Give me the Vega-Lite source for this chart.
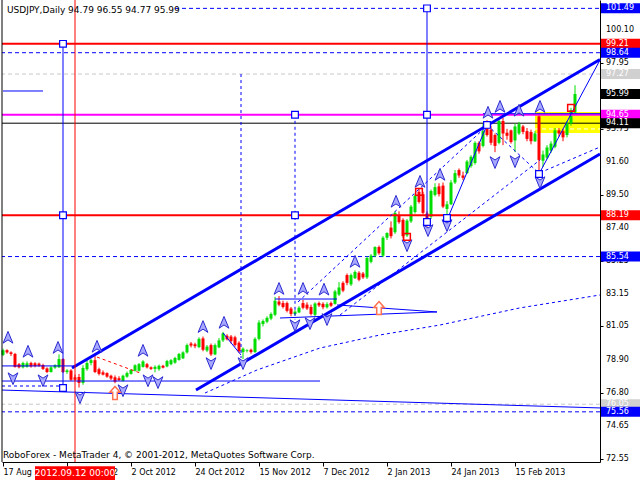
{
"$schema": "https://vega.github.io/schema/vega-lite/v6.json",
"width": 598, "height": 462,
"autosize": {"type": "none"},
"padding": {"left": 2, "top": 0, "right": 40, "bottom": 18},
"background": "white",
"config": {"view": {"stroke": null}, "font": "DejaVu Sans", "axis": {"labelOverlap": false, "labelBound": false, "labelFlush": false, "grid": false}},
"datasets": {
"candles": [
{"i":0,"o":79.22,"h":79.62,"l":79.15,"c":79.52},{"i":1,"o":79.52,"h":79.58,"l":79.30,"c":79.38},{"i":2,"o":79.38,"h":79.45,"l":79.15,"c":79.28},{"i":3,"o":79.28,"h":79.35,"l":78.40,"c":78.45},{"i":4,"o":78.62,"h":78.70,"l":78.35,"c":78.42},{"i":5,"o":78.42,"h":78.78,"l":78.35,"c":78.70},{"i":6,"o":78.45,"h":78.80,"l":78.40,"c":78.68},{"i":7,"o":78.70,"h":78.78,"l":78.40,"c":78.48},{"i":8,"o":78.68,"h":78.75,"l":78.42,"c":78.50},{"i":9,"o":78.66,"h":78.72,"l":78.45,"c":78.52},
{"i":10,"o":78.56,"h":78.65,"l":78.25,"c":78.32},{"i":11,"o":78.35,"h":78.42,"l":78.05,"c":78.12},{"i":12,"o":78.12,"h":78.50,"l":78.08,"c":78.42},{"i":13,"o":78.40,"h":78.62,"l":78.32,"c":78.55},{"i":14,"o":78.42,"h":79.25,"l":78.38,"c":78.95},{"i":15,"o":78.95,"h":79.00,"l":78.05,"c":78.12},{"i":16,"o":78.12,"h":78.30,"l":78.00,"c":78.22},{"i":17,"o":78.22,"h":78.30,"l":77.55,"c":77.62},{"i":18,"o":77.78,"h":77.95,"l":77.55,"c":77.62},{"i":19,"o":77.80,"h":78.00,"l":77.12,"c":77.42},
{"i":20,"o":77.42,"h":78.55,"l":77.30,"c":78.38},{"i":21,"o":78.30,"h":78.95,"l":78.20,"c":78.70},{"i":22,"o":78.70,"h":78.98,"l":78.55,"c":78.88},{"i":23,"o":78.88,"h":79.22,"l":78.05,"c":78.12},{"i":24,"o":78.30,"h":78.40,"l":77.90,"c":78.00},{"i":25,"o":78.10,"h":78.22,"l":77.90,"c":77.95},{"i":26,"o":78.05,"h":78.10,"l":77.75,"c":77.82},{"i":27,"o":77.88,"h":77.95,"l":77.60,"c":77.70},{"i":28,"o":77.78,"h":77.90,"l":77.40,"c":77.50},{"i":29,"o":77.72,"h":77.85,"l":77.55,"c":77.60},
{"i":30,"o":77.55,"h":77.95,"l":77.50,"c":77.88},{"i":31,"o":77.82,"h":78.15,"l":77.75,"c":78.05},{"i":32,"o":78.00,"h":78.30,"l":77.95,"c":78.25},{"i":33,"o":78.20,"h":78.62,"l":78.15,"c":78.55},{"i":34,"o":78.20,"h":78.70,"l":78.15,"c":78.62},{"i":35,"o":78.45,"h":78.88,"l":78.40,"c":78.80},{"i":36,"o":78.62,"h":78.70,"l":78.35,"c":78.42},{"i":37,"o":78.42,"h":78.48,"l":78.25,"c":78.32},{"i":38,"o":78.32,"h":78.55,"l":78.10,"c":78.45},{"i":39,"o":78.30,"h":78.60,"l":78.20,"c":78.52},
{"i":40,"o":78.52,"h":78.58,"l":78.35,"c":78.40},{"i":41,"o":78.48,"h":78.90,"l":78.42,"c":78.82},{"i":42,"o":78.62,"h":78.95,"l":78.55,"c":78.88},{"i":43,"o":78.72,"h":79.10,"l":78.65,"c":79.02},{"i":44,"o":78.90,"h":79.35,"l":78.85,"c":79.28},{"i":45,"o":79.00,"h":79.45,"l":78.95,"c":79.38},{"i":46,"o":79.38,"h":79.95,"l":79.30,"c":79.85},{"i":47,"o":79.95,"h":80.05,"l":79.70,"c":79.82},{"i":48,"o":79.90,"h":80.00,"l":79.65,"c":79.78},{"i":49,"o":79.72,"h":80.35,"l":79.65,"c":80.25},
{"i":50,"o":80.28,"h":80.40,"l":79.45,"c":79.55},{"i":51,"o":79.50,"h":79.85,"l":79.40,"c":79.75},{"i":52,"o":79.85,"h":79.95,"l":79.15,"c":79.25},{"i":53,"o":79.25,"h":79.95,"l":79.20,"c":79.85},{"i":54,"o":79.70,"h":80.30,"l":79.65,"c":80.15},{"i":55,"o":80.15,"h":80.70,"l":80.05,"c":80.60},{"i":56,"o":80.45,"h":80.55,"l":80.15,"c":80.22},{"i":57,"o":80.40,"h":80.50,"l":79.95,"c":80.10},{"i":58,"o":80.35,"h":80.45,"l":79.75,"c":79.85},{"i":59,"o":80.00,"h":80.10,"l":79.35,"c":79.45},
{"i":60,"o":79.40,"h":79.70,"l":78.95,"c":79.62},{"i":61,"o":79.48,"h":79.58,"l":79.38,"c":79.52},{"i":62,"o":79.55,"h":79.62,"l":79.30,"c":79.40},{"i":63,"o":79.40,"h":80.35,"l":79.35,"c":80.25},{"i":64,"o":80.25,"h":81.45,"l":80.15,"c":81.30},{"i":65,"o":81.20,"h":81.50,"l":81.05,"c":81.40},{"i":66,"o":81.35,"h":81.70,"l":81.25,"c":81.60},{"i":67,"o":81.55,"h":81.95,"l":81.45,"c":81.85},{"i":68,"o":81.80,"h":82.95,"l":81.70,"c":82.70},{"i":69,"o":82.65,"h":83.00,"l":82.35,"c":82.45},
{"i":70,"o":82.55,"h":82.70,"l":82.20,"c":82.30},{"i":71,"o":82.55,"h":82.65,"l":81.95,"c":82.05},{"i":72,"o":82.20,"h":82.30,"l":81.70,"c":81.85},{"i":73,"o":81.85,"h":82.10,"l":81.75,"c":82.00},{"i":74,"o":81.95,"h":82.35,"l":81.90,"c":82.25},{"i":75,"o":82.55,"h":82.75,"l":82.15,"c":82.25},{"i":76,"o":82.45,"h":82.60,"l":82.10,"c":82.20},{"i":77,"o":82.30,"h":82.45,"l":81.75,"c":81.85},{"i":78,"o":81.80,"h":82.60,"l":81.70,"c":82.52},{"i":79,"o":82.55,"h":82.65,"l":82.30,"c":82.40},
{"i":80,"o":82.50,"h":82.60,"l":82.15,"c":82.28},{"i":81,"o":82.28,"h":82.60,"l":82.20,"c":82.48},{"i":82,"o":82.55,"h":82.65,"l":82.30,"c":82.38},{"i":83,"o":82.50,"h":83.40,"l":82.45,"c":83.30},{"i":84,"o":83.10,"h":83.90,"l":83.00,"c":83.55},{"i":85,"o":83.85,"h":83.95,"l":83.25,"c":83.35},{"i":86,"o":84.35,"h":84.45,"l":83.70,"c":83.85},{"i":87,"o":83.75,"h":84.45,"l":83.65,"c":84.35},{"i":88,"o":84.15,"h":84.65,"l":84.10,"c":84.55},{"i":89,"o":84.50,"h":84.60,"l":83.95,"c":84.05},
{"i":90,"o":84.45,"h":84.55,"l":84.10,"c":84.20},{"i":91,"o":84.20,"h":85.55,"l":84.10,"c":85.45},{"i":92,"o":85.20,"h":85.70,"l":85.10,"c":85.60},{"i":93,"o":85.60,"h":86.20,"l":85.50,"c":86.15},{"i":94,"o":86.15,"h":86.25,"l":85.65,"c":85.75},{"i":95,"o":85.60,"h":86.85,"l":85.50,"c":86.75},{"i":96,"o":86.75,"h":87.10,"l":86.60,"c":87.05},{"i":97,"o":87.40,"h":87.80,"l":86.70,"c":86.85},{"i":98,"o":87.10,"h":88.45,"l":87.00,"c":88.35},{"i":99,"o":88.20,"h":88.45,"l":87.65,"c":87.75},
{"i":100,"o":87.90,"h":88.00,"l":86.70,"c":86.85},{"i":101,"o":86.90,"h":87.95,"l":86.80,"c":87.85},{"i":102,"o":87.80,"h":88.85,"l":87.70,"c":88.75},{"i":103,"o":88.40,"h":89.55,"l":88.30,"c":89.45},{"i":104,"o":89.70,"h":89.90,"l":88.95,"c":89.05},{"i":105,"o":89.55,"h":89.70,"l":88.25,"c":88.35},{"i":106,"o":88.30,"h":88.45,"l":87.45,"c":87.90},{"i":107,"o":88.10,"h":89.85,"l":87.95,"c":89.75},{"i":108,"o":89.50,"h":90.25,"l":89.40,"c":90.00},{"i":109,"o":90.05,"h":90.25,"l":89.40,"c":89.55},
{"i":110,"o":90.10,"h":90.30,"l":88.65,"c":88.75},{"i":111,"o":88.60,"h":89.10,"l":88.05,"c":88.90},{"i":112,"o":88.90,"h":90.45,"l":88.85,"c":90.30},{"i":113,"o":90.30,"h":91.10,"l":90.20,"c":90.90},{"i":114,"o":91.10,"h":91.20,"l":90.60,"c":90.75},{"i":115,"o":90.75,"h":91.00,"l":90.45,"c":90.60},{"i":116,"o":90.90,"h":91.75,"l":90.85,"c":91.65},{"i":117,"o":91.35,"h":92.05,"l":91.25,"c":91.95},{"i":118,"o":91.55,"h":92.95,"l":91.45,"c":92.85},{"i":119,"o":92.85,"h":92.95,"l":92.15,"c":92.30},
{"i":120,"o":92.65,"h":94.05,"l":92.55,"c":93.60},{"i":121,"o":94.15,"h":94.30,"l":93.25,"c":93.35},{"i":122,"o":93.70,"h":93.95,"l":92.70,"c":92.85},{"i":123,"o":93.35,"h":93.45,"l":92.25,"c":92.65},{"i":124,"o":92.85,"h":94.45,"l":92.75,"c":94.25},{"i":125,"o":94.25,"h":94.45,"l":92.70,"c":93.45},{"i":126,"o":93.50,"h":93.75,"l":93.05,"c":93.30},{"i":127,"o":93.65,"h":93.70,"l":92.80,"c":92.90},{"i":128,"o":93.00,"h":94.10,"l":92.25,"c":93.90},{"i":129,"o":93.45,"h":94.20,"l":93.35,"c":94.05},
{"i":130,"o":93.90,"h":94.00,"l":93.40,"c":93.55},{"i":131,"o":93.60,"h":93.80,"l":92.95,"c":93.10},{"i":132,"o":93.55,"h":93.70,"l":92.75,"c":92.95},{"i":133,"o":92.95,"h":93.60,"l":92.90,"c":93.45},{"i":134,"o":94.55,"h":94.77,"l":90.85,"c":91.75},{"i":135,"o":91.70,"h":92.35,"l":91.30,"c":92.10},{"i":136,"o":91.90,"h":92.70,"l":91.80,"c":92.55},{"i":137,"o":92.35,"h":92.95,"l":92.20,"c":92.80},{"i":138,"o":92.60,"h":93.80,"l":92.50,"c":93.65},{"i":139,"o":93.65,"h":93.80,"l":93.25,"c":93.45},
{"i":140,"o":93.60,"h":93.75,"l":92.95,"c":93.20},{"i":141,"o":93.35,"h":94.25,"l":93.20,"c":94.10},{"i":142,"o":94.10,"h":95.10,"l":93.95,"c":94.95},{"i":143,"o":94.79,"h":96.55,"l":94.77,"c":95.99}
],
"levels": [
{"p":101.49,"kind":"target"},{"p":99.21,"kind":"key"},{"p":98.64,"kind":"target"},{"p":97.27,"kind":"prev"},{"p":95.99,"kind":"bid"},{"p":94.65,"kind":"entry"},{"p":94.11,"kind":"price"},{"p":88.19,"kind":"key"},{"p":85.54,"kind":"target"},{"p":76.05,"kind":"prev"},{"p":75.56,"kind":"target"}
],
"yticks": [{"v":72.55,"t":"72.55"},{"v":74.65,"t":"74.65"},{"v":76.8,"t":"76.80"},{"v":78.9,"t":"78.90"},{"v":81.05,"t":"81.05"},{"v":83.15,"t":"83.15"},{"v":85.25,"t":"85.25"},{"v":87.4,"t":"87.40"},{"v":89.5,"t":"89.50"},{"v":91.6,"t":"91.60"},{"v":93.75,"t":"93.75"},{"v":95.85,"t":"95.85"},{"v":97.95,"t":"97.95"},{"v":100.1,"t":"100.10"}],
"zone": [{"a":133,"b":149.25,"lo":93.48,"hi":94.83}],
"zonemid": [{"i":133,"p":93.74},{"i":149.25,"p":93.74}],
"thin": [
{"id":"t0","i":0,"p":96.18},{"id":"t0","i":10,"p":96.18},
{"id":"z1","i":111,"p":87.89},{"id":"z1","i":121,"p":94.0},
{"id":"z2","i":134,"p":90.85},{"id":"z2","i":149.25,"p":98.17},
{"id":"h1","i":120,"p":94.72},{"id":"h1","i":149.25,"p":94.72},
{"id":"zz","i":55,"p":80.63},{"id":"zz","i":59.5,"p":79.21},
{"id":"tr1","i":68,"p":82.81},{"id":"tr1","i":83.5,"p":82.81},
{"id":"tr2","i":83.5,"p":82.43},{"id":"tr2","i":108.5,"p":81.98},
{"id":"tr3","i":69.25,"p":81.59},{"id":"tr3","i":108.5,"p":81.98},
{"id":"b1","i":-0.25,"p":78.51},{"id":"b1","i":18.5,"p":78.51},
{"id":"b2","i":-0.25,"p":77.54},{"id":"b2","i":79.25,"p":77.54},
{"id":"b3","i":-0.25,"p":76.96},{"id":"b3","i":149.25,"p":75.81}
],
"dashed": [
{"id":"d1","i":50.5,"p":76.77},{"id":"d1","i":63.5,"p":78.25},{"id":"d1","i":79.25,"p":79.66},{"id":"d1","i":94.25,"p":80.5},{"id":"d1","i":109.25,"p":81.14},{"id":"d1","i":129.25,"p":82.24},{"id":"d1","i":149.25,"p":83.07},
{"id":"d2","i":73.75,"p":82.62},{"id":"d2","i":121.75,"p":94.12},
{"id":"d3","i":84.25,"p":81.78},{"id":"d3","i":134.25,"p":91.75},
{"id":"d4","i":121,"p":94.0},{"id":"d4","i":134,"p":90.9},{"id":"d4","i":149.25,"p":92.58},
{"id":"d5","i":-0.25,"p":77.22},{"id":"d5","i":15,"p":77.22}
],
"reddash": [{"i":23.5,"p":79.08},{"i":34.25,"p":78.06}],
"channel": [
{"id":"up","i":17.25,"p":78.38},{"id":"up","i":149.25,"p":98.2},
{"id":"lo","i":48.25,"p":76.96},{"id":"lo","i":149.25,"p":92.13}
],
"vsolid": [{"i":15,"p1":99.21,"p2":77.09},{"i":106,"p1":101.49,"p2":87.76}],
"vdash": [{"i":59.5,"p1":97.27,"p2":79.02},{"i":73,"p1":94.65,"p2":81.5}],
"bsq": [{"i":15,"p":99.21},{"i":15,"p":88.19},{"i":15,"p":77.09},{"i":106,"p":101.49},{"i":106,"p":94.65},{"i":106,"p":87.76},{"i":73,"p":94.65},{"i":73,"p":88.19},{"i":121,"p":94.0},{"i":134,"p":90.85},{"i":111,"p":88.02}],
"rsq": [{"i":101,"p":86.8},{"i":104,"p":89.7},{"i":142,"p":95.1}],
"fup": [{"i":1.25,"p":80.31},{"i":6.25,"p":79.41},{"i":13.75,"p":79.66},{"i":23.5,"p":79.73},{"i":35,"p":79.47},{"i":50,"p":81.0},{"i":55.25,"p":81.27},{"i":69,"p":83.45},{"i":75,"p":83.45},{"i":80.25,"p":83.4},{"i":88,"p":85.19},{"i":98.25,"p":89.05},{"i":104.25,"p":90.33},{"i":109.25,"p":90.78},{"i":121.25,"p":94.77},{"i":124.25,"p":95.15},{"i":129,"p":94.9},{"i":134.25,"p":95.15}],
"fdn": [{"i":2.5,"p":77.73},{"i":10,"p":77.6},{"i":19.25,"p":76.51},{"i":30,"p":76.96},{"i":36.25,"p":77.6},{"i":38.75,"p":77.48},{"i":52,"p":78.7},{"i":60,"p":78.7},{"i":73,"p":81.14},{"i":76.75,"p":81.27},{"i":81,"p":81.53},{"i":101,"p":86.28},{"i":106.25,"p":87.25},{"i":111,"p":87.57},{"i":123,"p":91.62},{"i":128,"p":91.68},{"i":134.25,"p":90.33}],
"oar": [{"i":28,"p":76.77},{"i":94,"p":82.23}]
},
"layer": [
{"data": {"name": "zone"}, "mark": {"type": "rect", "color": "#ffff00"},
 "encoding": {
  "x": {"field": "a", "type": "quantitative", "title": null, "scale": {"domain": [-0.25, 149.25], "nice": false, "zero": false},
   "axis": {"orient": "bottom", "values": [0,16,32,48,64,80,96,112,128], "labelExpr": "['17 Aug 2012','10 Sep 2012','2 Oct 2012','24 Oct 2012','15 Nov 2012','7 Dec 2012','2 Jan 2013','24 Jan 2013','15 Feb 2013'][round(datum.value/16)]", "labelAlign": "left", "labelBaseline": "top", "labelPadding": 2, "labelFont": "DejaVu Sans", "labelFontSize": 8, "labelColor": "#000", "tickSize": 4, "tickColor": "#000", "domainColor": "#000", "grid": false, "labelOverlap": false, "labelBound": false, "labelFlush": false}},
  "x2": {"field": "b"},
  "y": {"field": "lo", "type": "quantitative", "title": null, "scale": {"domain": [72.336, 102.028], "nice": false, "zero": false},
   "axis": {"orient": "right", "values": [72.55,74.65,76.80,78.90,81.05,83.15,85.25,87.40,89.50,91.60,93.75,95.85,97.95,100.10], "labels": false, "tickSize": 3, "tickColor": "#000", "domainColor": "#000", "grid": false}},
  "y2": {"field": "hi"}}},
{"data": {"name": "zonemid"}, "mark": {"type": "line", "color": "#ffffff", "strokeWidth": 1, "strokeDash": [4, 3]},
 "encoding": {"x": {"field": "i", "type": "quantitative", "title": null}, "y": {"field": "p", "type": "quantitative", "title": null}}},
{"data": {"name": "levels"}, "transform": [{"filter": "datum.kind == 'prev'"}], "mark": {"type": "rule", "color": "#c8c8c8", "strokeDash": [4, 3]}, "encoding": {"y": {"field": "p", "type": "quantitative", "title": null}}},
{"data": {"name": "levels"}, "transform": [{"filter": "datum.kind == 'target' && datum.p < 100"}], "mark": {"type": "rule", "color": "#0000ff", "strokeDash": [4, 3]}, "encoding": {"y": {"field": "p", "type": "quantitative", "title": null}}},
{"data": {"name": "levels"}, "transform": [{"filter": "datum.kind == 'target' && datum.p > 100"}], "mark": {"type": "rule", "color": "#0000ff", "strokeDash": [4, 3]}, "encoding": {"x": {"datum": 43}, "x2": {"datum": 149.25}, "y": {"field": "p", "type": "quantitative", "title": null}}},
{"data": {"name": "levels"}, "transform": [{"filter": "datum.kind == 'price'"}], "mark": {"type": "rule", "color": "#000000"}, "encoding": {"y": {"field": "p", "type": "quantitative", "title": null}}},
{"data": {"name": "candles"}, "mark": {"type": "rule", "strokeWidth": 1},
 "encoding": {"x": {"field": "i", "type": "quantitative", "title": null}, "y": {"field": "l", "type": "quantitative", "title": null}, "y2": {"field": "h"},
  "color": {"condition": {"test": "datum.c >= datum.o", "value": "#00dd00"}, "value": "#ff0000"}}},
{"data": {"name": "candles"}, "mark": {"type": "rule", "strokeWidth": 3, "strokeCap": "butt"},
 "encoding": {"x": {"field": "i", "type": "quantitative", "title": null}, "y": {"field": "o", "type": "quantitative", "title": null}, "y2": {"field": "c"},
  "color": {"condition": {"test": "datum.c >= datum.o", "value": "#00dd00"}, "value": "#ff0000"}}},
{"data": {"name": "levels"}, "transform": [{"filter": "datum.kind == 'key'"}], "mark": {"type": "rule", "color": "#ff0000", "strokeWidth": 2}, "encoding": {"y": {"field": "p", "type": "quantitative", "title": null}}},
{"data": {"name": "levels"}, "transform": [{"filter": "datum.kind == 'entry'"}], "mark": {"type": "rule", "color": "#ff00ff", "strokeWidth": 2}, "encoding": {"y": {"field": "p", "type": "quantitative", "title": null}}},
{"data": {"name": "thin"}, "mark": {"type": "line", "color": "#0000ff", "strokeWidth": 1},
 "encoding": {"x": {"field": "i", "type": "quantitative", "title": null}, "y": {"field": "p", "type": "quantitative", "title": null}, "detail": {"field": "id"}}},
{"data": {"name": "dashed"}, "mark": {"type": "line", "color": "#0000ff", "strokeWidth": 1, "strokeDash": [3, 3]},
 "encoding": {"x": {"field": "i", "type": "quantitative", "title": null}, "y": {"field": "p", "type": "quantitative", "title": null}, "detail": {"field": "id"}}},
{"data": {"name": "reddash"}, "mark": {"type": "line", "color": "#ff0000", "strokeWidth": 1, "strokeDash": [3, 3]},
 "encoding": {"x": {"field": "i", "type": "quantitative", "title": null}, "y": {"field": "p", "type": "quantitative", "title": null}}},
{"data": {"name": "channel"}, "mark": {"type": "line", "color": "#0000ff", "strokeWidth": 3},
 "encoding": {"x": {"field": "i", "type": "quantitative", "title": null}, "y": {"field": "p", "type": "quantitative", "title": null}, "detail": {"field": "id"}}},
{"data": {"name": "vsolid"}, "mark": {"type": "rule", "color": "#0000ff"},
 "encoding": {"x": {"field": "i", "type": "quantitative", "title": null}, "y": {"field": "p1", "type": "quantitative", "title": null}, "y2": {"field": "p2"}}},
{"data": {"name": "vdash"}, "mark": {"type": "rule", "color": "#0000ff", "strokeDash": [3, 3]},
 "encoding": {"x": {"field": "i", "type": "quantitative", "title": null}, "y": {"field": "p1", "type": "quantitative", "title": null}, "y2": {"field": "p2"}}},
{"data": {"values": [{}]}, "mark": {"type": "rule", "color": "#ff0000"}, "encoding": {"x": {"datum": 18}}},
{"data": {"values": [{}]}, "mark": {"type": "rule", "color": "#000000"}, "encoding": {"x": {"datum": -0.25}}},
{"data": {"name": "fup"}, "mark": {"type": "point", "shape": "M0,-1L0.75,0.8L0,0.3L-0.75,0.8Z", "size": 170, "filled": true, "fill": "#a8a8ff", "stroke": "#2a2ad0", "strokeWidth": 1, "opacity": 1},
 "encoding": {"x": {"field": "i", "type": "quantitative", "title": null}, "y": {"field": "p", "type": "quantitative", "title": null}}},
{"data": {"name": "fdn"}, "mark": {"type": "point", "shape": "M0,1L0.75,-0.8L0,-0.3L-0.75,-0.8Z", "size": 170, "filled": true, "fill": "#a8a8ff", "stroke": "#2a2ad0", "strokeWidth": 1, "opacity": 1},
 "encoding": {"x": {"field": "i", "type": "quantitative", "title": null}, "y": {"field": "p", "type": "quantitative", "title": null}}},
{"data": {"name": "oar"}, "mark": {"type": "point", "shape": "M0,-1L0.8,-0.1L0.35,-0.1L0.35,1L-0.35,1L-0.35,-0.1L-0.8,-0.1Z", "size": 170, "filled": true, "fill": "#ffffff", "stroke": "#ff7050", "strokeWidth": 1.5, "opacity": 1},
 "encoding": {"x": {"field": "i", "type": "quantitative", "title": null}, "y": {"field": "p", "type": "quantitative", "title": null}}},
{"data": {"name": "bsq"}, "mark": {"type": "point", "shape": "square", "size": 45, "filled": true, "fill": "#ffffff", "stroke": "#0000ff", "strokeWidth": 1.2, "opacity": 1},
 "encoding": {"x": {"field": "i", "type": "quantitative", "title": null}, "y": {"field": "p", "type": "quantitative", "title": null}}},
{"data": {"name": "rsq"}, "mark": {"type": "point", "shape": "square", "size": 45, "filled": false, "stroke": "#ff0000", "strokeWidth": 1.5, "opacity": 1},
 "encoding": {"x": {"field": "i", "type": "quantitative", "title": null}, "y": {"field": "p", "type": "quantitative", "title": null}}},
{"data": {"values": [{}]}, "mark": {"type": "text", "align": "left", "baseline": "middle", "font": "DejaVu Sans", "fontSize": 9, "color": "#000000", "text": "USDJPY,Daily  94.79 96.55 94.77 95.99"},
 "encoding": {"x": {"datum": 1}, "y": {"datum": 101.4}}},
{"data": {"values": [{}]}, "mark": {"type": "text", "align": "left", "baseline": "middle", "font": "DejaVu Sans", "fontSize": 9, "color": "#000000", "text": "RoboForex - MetaTrader 4, © 2001-2012, MetaQuotes Software Corp."},
 "encoding": {"x": {"datum": 0}, "y": {"datum": 72.8}}},
{"data": {"values": [{}]}, "mark": {"type": "rule", "color": "#ff0000", "strokeWidth": 14, "strokeCap": "butt"},
 "encoding": {"x": {"datum": 8}, "x2": {"datum": 28}, "y": {"datum": 71.62}}},
{"data": {"values": [{}]}, "mark": {"type": "text", "align": "center", "baseline": "middle", "font": "DejaVu Sans", "fontSize": 9, "color": "#ffffff", "text": "2012.09.12 00:00"},
 "encoding": {"x": {"datum": 18}, "y": {"datum": 71.62}}},
{"data": {"name": "yticks"}, "mark": {"type": "text", "align": "left", "baseline": "middle", "font": "DejaVu Sans", "fontSize": 8, "color": "#000000", "dx": 5},
 "encoding": {"x": {"datum": 149.5}, "y": {"field": "v", "type": "quantitative", "title": null}, "text": {"field": "t", "type": "nominal"}}},
{"data": {"name": "levels"}, "mark": {"type": "rule", "strokeWidth": 10, "strokeCap": "butt"},
 "encoding": {"x": {"datum": 149.5}, "x2": {"datum": 159.75}, "y": {"field": "p", "type": "quantitative", "title": null},
  "color": {"field": "kind", "type": "nominal", "legend": null, "scale": {"domain": ["target","key","prev","bid","entry","price"], "range": ["#0000ff","#ff0000","#d0d0d0","#000000","#ff00ff","#000000"]}}}},
{"data": {"name": "levels"}, "mark": {"type": "text", "align": "left", "baseline": "middle", "font": "DejaVu Sans", "fontSize": 8, "color": "#ffffff", "dx": 5},
 "encoding": {"x": {"datum": 149.5}, "y": {"field": "p", "type": "quantitative", "title": null}, "text": {"field": "p", "type": "quantitative", "format": ".2f"}}}
]
}
